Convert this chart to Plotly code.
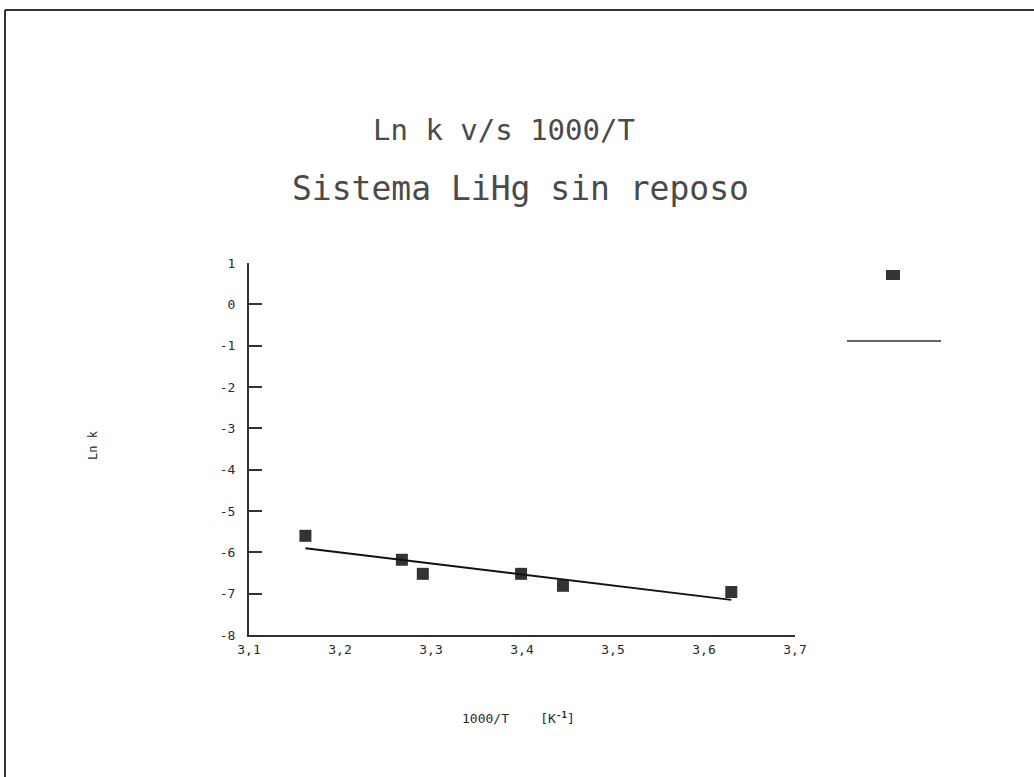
import plotly.graph_objects as go

# Arrhenius data: 1000/T [1/K] and ln k
inv_temp = [3.162, 3.268, 3.291, 3.399, 3.445, 3.630]
ln_k = [-5.60, -6.18, -6.52, -6.52, -6.81, -6.96]

# fitted straight line (end points)
fit_x = [3.162, 3.630]
fit_y = [-5.90, -7.15]

x_ticks = [3.1, 3.2, 3.3, 3.4, 3.5, 3.6, 3.7]
x_tick_labels = ["3,1", "3,2", "3,3", "3,4", "3,5", "3,6", "3,7"]
y_ticks = [1, 0, -1, -2, -3, -4, -5, -6, -7, -8]
y_tick_labels = ["1", "0", "-1", "-2", "-3", "-4", "-5", "-6", "-7", "-8"]

W, H = 1034, 777
L, R, T, B = 249, 795, 263, 635  # plot area in pixels

FONT = "DejaVu Sans Mono"
INK = "#2a2a2a"


def px(xp):
    return (xp - L) / (R - L)


def py(yp):
    return (B - yp) / (B - T)


fig = go.Figure()
fig.add_trace(go.Scatter(
    x=inv_temp, y=ln_k, mode="markers",
    marker=dict(symbol="square", size=12, color="#333333"),
    showlegend=False, hoverinfo="x+y",
))
fig.add_trace(go.Scatter(
    x=fit_x, y=fit_y, mode="lines",
    line=dict(color="#111111", width=2),
    showlegend=False, hoverinfo="skip",
))

shapes = [
    # page frame (left and top edges)
    dict(type="line", xref="paper", yref="paper", x0=px(5), x1=px(5), y0=py(10), y1=py(790),
         line=dict(color="#333333", width=2)),
    dict(type="line", xref="paper", yref="paper", x0=px(5), x1=px(1040), y0=py(10), y1=py(10),
         line=dict(color="#333333", width=2)),
    # key samples on the right
    dict(type="rect", xref="paper", yref="paper", x0=px(886), x1=px(900), y0=py(280), y1=py(270),
         fillcolor="#333333", line=dict(width=0)),
    dict(type="line", xref="paper", yref="paper", x0=px(847), x1=px(941), y0=py(341), y1=py(341),
         line=dict(color="#333333", width=1.5)),
]


def label(text, x, y, size, color=INK, angle=0):
    return dict(text=text, xref="paper", yref="paper", x=px(x), y=py(y),
                xanchor="center", yanchor="middle", textangle=angle,
                showarrow=False, font=dict(family=FONT, size=size, color=color))


annotations = [
    label("Ln k v/s 1000/T", 504, 130, 29, "#4a4a4a"),
    label("Sistema LiHg sin reposo", 520, 188, 33, "#4a4a4a"),
    label("Ln k", 93, 445, 12, angle=-90),
    label("1000/T    [K<sup><b>-1</b></sup>]", 518, 718, 13),
]

fig.update_layout(
    width=W, height=H,
    margin=dict(l=L, r=W - R, t=T, b=H - B, pad=0),
    paper_bgcolor="white", plot_bgcolor="white",
    showlegend=False,
    shapes=shapes, annotations=annotations,
    xaxis=dict(
        range=[3.1, 3.7], tickmode="array", tickvals=x_ticks, ticktext=x_tick_labels,
        showline=True, linecolor="#333333", linewidth=2, showgrid=False, zeroline=False,
        ticks="", ticklabelstandoff=1,
        tickfont=dict(family=FONT, size=13, color=INK),
    ),
    yaxis=dict(
        range=[-8, 1], tickmode="array", tickvals=y_ticks, ticktext=y_tick_labels,
        showline=True, linecolor="#333333", linewidth=2, showgrid=False, zeroline=False,
        ticks="inside", ticklen=13, tickwidth=1.5, tickcolor="#333333",
        ticklabelstandoff=9,
        tickfont=dict(family=FONT, size=13, color=INK),
    ),
)

fig.write_html("out.html")
